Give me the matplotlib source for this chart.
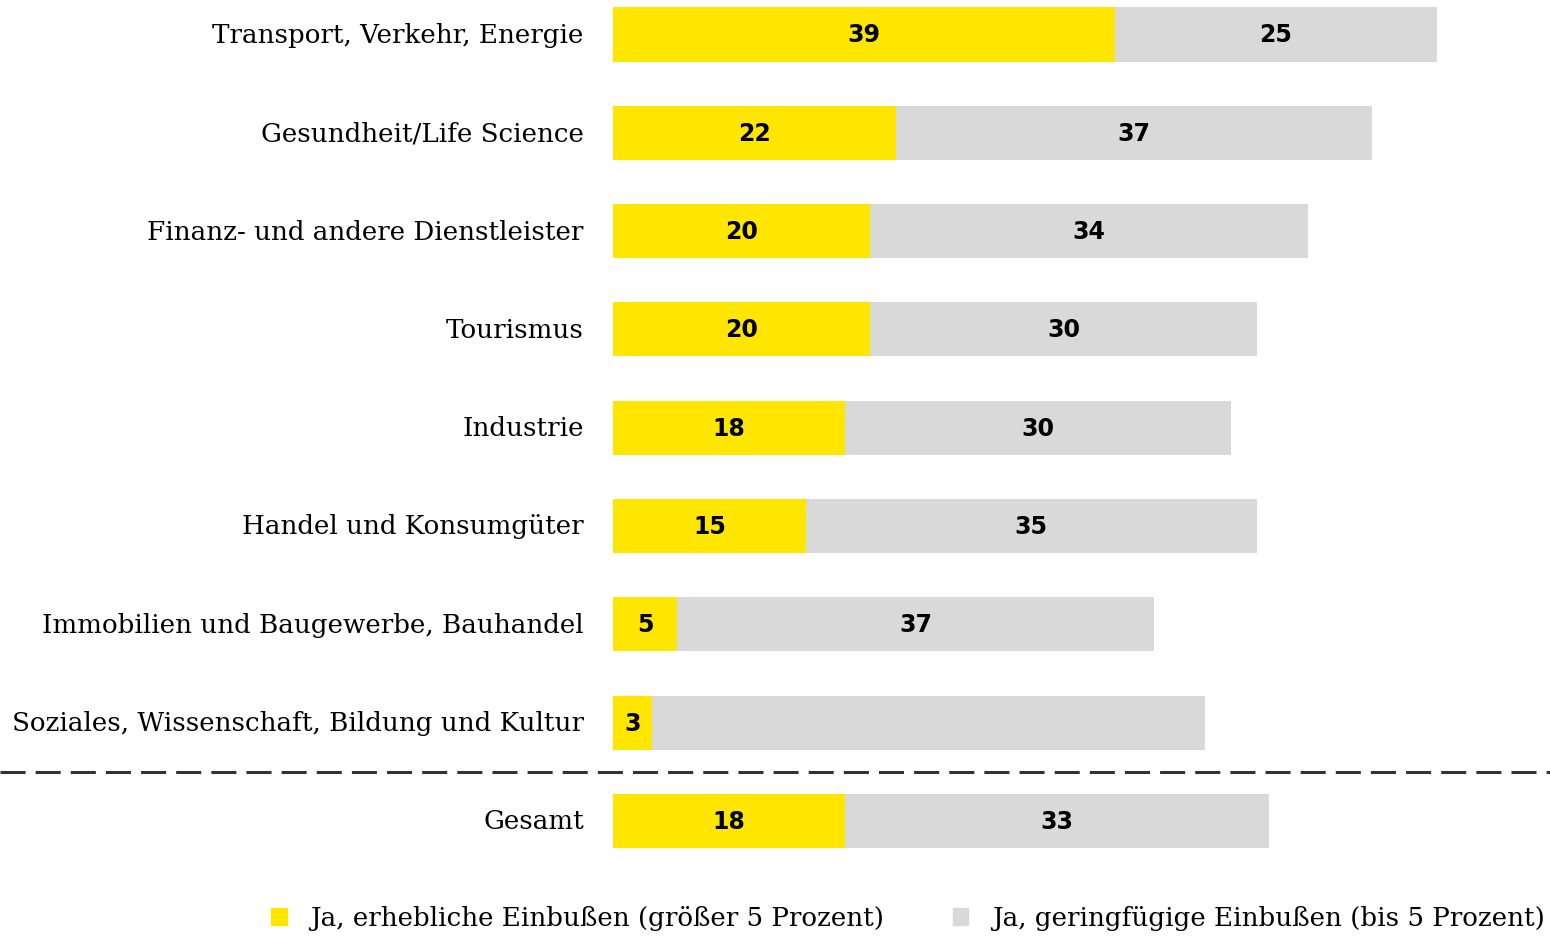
import numpy as np
import matplotlib.pyplot as plt
from matplotlib.patches import Patch

# categories top to bottom
categories = ['Transport, Verkehr, Energie', 'Gesundheit/Life Science',
              'Finanz- und andere Dienstleister', 'Tourismus', 'Industrie',
              'Handel und Konsumgüter', 'Immobilien und Baugewerbe, Bauhandel',
              'Soziales, Wissenschaft, Bildung und Kultur', 'Gesamt']
erheblich = [39, 22, 20, 20, 18, 15, 5, 3, 18]
geringfuegig = [25, 37, 34, 30, 30, 35, 37, 43, 33]
# the reference prints no number on the grey part of "Soziales..."
show_grey_label = [True, True, True, True, True, True, True, False, True]

yellow = '#FFE600'
grey = '#D9D9D9'
label_font = 'DejaVu Serif'
num_font = 'DejaVu Sans'

fig = plt.figure(figsize=(15.5, 9.37), dpi=100)
W, H = 1550, 937
x0 = 613          # pixel where the bars start
px_per_unit = 12.87
ax = fig.add_axes([x0 / W, 0, 1 - x0 / W, 1])

y = np.arange(len(categories))
ax.barh(y, erheblich, height=0.55, color=yellow)
ax.barh(y, geringfuegig, left=erheblich, height=0.55, color=grey)

for i in range(len(categories)):
    ax.text(erheblich[i] / 2, y[i], str(erheblich[i]), ha='center', va='center',
            fontsize=17, fontweight='bold', family=num_font, color='black')
    if show_grey_label[i]:
        ax.text(erheblich[i] + geringfuegig[i] / 2, y[i], str(geringfuegig[i]),
                ha='center', va='center', fontsize=17, fontweight='bold',
                family=num_font, color='black')

ax.set_xlim(0, (W - x0) / px_per_unit)
ax.set_ylim((H - 35.5) / 98.3, -35.5 / 98.3)
ax.set_yticks(y)
ax.set_yticklabels(categories, family=label_font, fontsize=18.8, va='center')
ax.tick_params(axis='y', length=0, pad=21)
ax.set_xticks([])
for s in ax.spines.values():
    s.set_visible(False)

# dashed separator before "Gesamt", across the whole figure
ax.axhline(7.5, xmin=-x0 / (W - x0), xmax=1, clip_on=False, color='#333333',
           lw=2.2, dashes=(8.2, 3.3))

handles = [Patch(color=yellow, label='Ja, erhebliche Einbußen (größer 5 Prozent)'),
           Patch(color=grey, label='Ja, geringfügige Einbußen (bis 5 Prozent)')]
fig.legend(handles=handles, loc='center', bbox_to_anchor=(908 / W, 1 - 919 / H),
           ncol=2, frameon=False, handlelength=0.6, handleheight=0.6,
           handletextpad=0.9, columnspacing=2.6,
           prop={'family': label_font, 'size': 18.8})

fig.savefig('out.png', dpi=100)
